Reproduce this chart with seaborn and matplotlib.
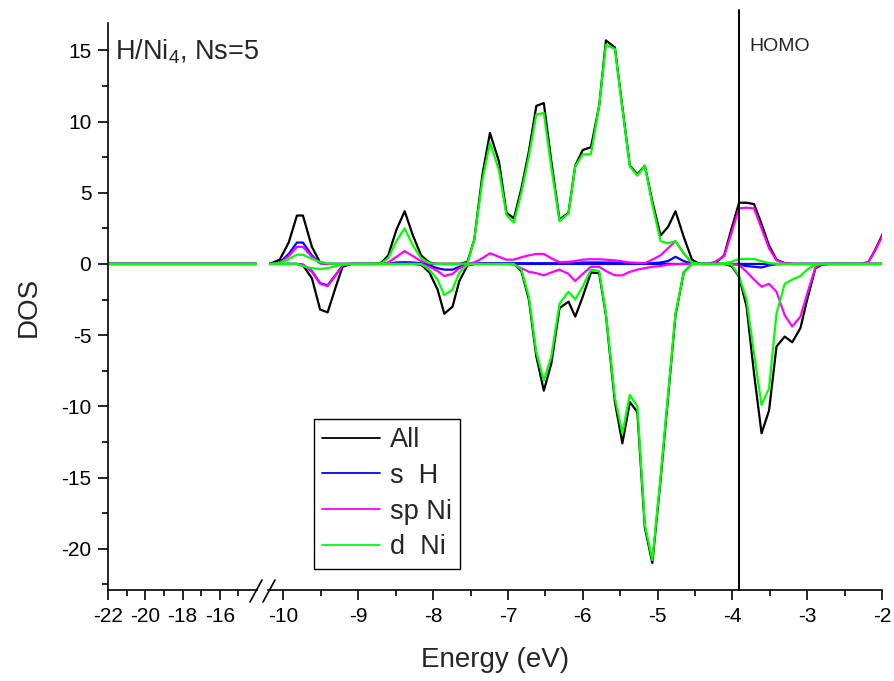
import numpy as np
import pandas as pd
import seaborn as sns
from matplotlib import pyplot as plt
from matplotlib.lines import Line2D

# energy grid (eV); -22 and -14 only feed the flat left panel
energy = [
    -22.0, -14.0, -10.30, -10.16, -10.05, -9.93, -9.82, -9.74, -9.62, -9.51,
    -9.41, -9.30, -9.21, -9.10, -8.99, -8.88, -8.78, -8.69, -8.60, -8.49,
    -8.38, -8.27, -8.16, -8.05, -7.94, -7.85, -7.74, -7.65, -7.54, -7.45,
    -7.34, -7.24, -7.12, -7.02, -6.92, -6.82, -6.72, -6.62, -6.52, -6.42,
    -6.31, -6.19, -6.10, -6.00, -5.89, -5.78, -5.69, -5.57, -5.47, -5.37,
    -5.27, -5.17, -5.07, -4.96, -4.86, -4.76, -4.65, -4.54, -4.44, -4.33,
    -4.23, -4.11, -4.01, -3.91, -3.81, -3.71, -3.61, -3.51, -3.41, -3.30,
    -3.20, -3.09, -3.00, -2.89, -2.80, -2.70, -2.59, -2.48, -2.38, -2.27,
    -2.18, -2.09, -2.00, -1.90,
]

all_up = [
    0, 0, 0, 0.05, 0.3, 1.5, 3.4, 3.4, 1.2, 0.1,
    0, 0, 0, 0, 0, 0, 0, 0.1, 0.6, 2.4,
    3.7, 2.0, 0.6, 0.1, 0, 0, 0, 0, 0.15, 1.7,
    6.3, 9.2, 7.2, 3.6, 3.2, 5.3, 7.9, 11.1, 11.3, 7.2,
    3.1, 3.6, 6.9, 8.0, 8.2, 11.1, 15.7, 15.2, 11.0, 6.9,
    6.3, 6.9, 4.4, 2.0, 2.6, 3.7, 1.9, 0.3, 0, 0,
    0.05, 0.6, 2.5, 4.3, 4.3, 4.2, 2.8, 1.3, 0.3, 0.05,
    0, 0, 0, 0, 0, 0, 0, 0, 0, 0,
    0.15, 1.0, 2.0, 3.2,
]
all_dn = [
    0, 0, 0, 0, 0, 0, 0, -0.1, -1.0, -3.2,
    -3.4, -1.6, -0.2, 0, 0, 0, 0, 0, 0, 0,
    0, 0, -0.05, -0.6, -1.8, -3.5, -3.0, -1.2, -0.1, 0,
    0, 0, 0, 0, 0, -0.5, -2.5, -6.5, -8.9, -7.0,
    -3.1, -2.65, -3.7, -2.3, -0.6, -0.65, -3.6, -9.7, -12.6, -9.7,
    -10.4, -18.5, -21.0, -15.2, -9.4, -3.6, -0.6, 0, 0, 0,
    0, 0, -0.15, -0.9, -3.0, -7.7, -11.9, -10.3, -5.8, -5.1,
    -5.5, -4.5, -2.5, -0.3, -0.05, 0, 0, 0, 0, 0,
    0, 0, 0, 0,
]
sH_up = [
    0, 0, 0, 0, 0.1, 0.7, 1.5, 1.5, 0.6, 0.05,
    0, 0, 0, 0, 0, 0, 0, 0, 0, 0.1,
    0.12, 0.1, 0.05, 0, 0, 0, 0, 0, 0, 0.02,
    0.05, 0.05, 0.05, 0.05, 0.05, 0.05, 0.05, 0.05, 0.05, 0.05,
    0.05, 0.05, 0.05, 0.1, 0.1, 0.1, 0.1, 0.1, 0.08, 0.05,
    0.05, 0.05, 0.05, 0.1, 0.2, 0.5, 0.2, 0.02, 0, 0,
    0, 0, 0, 0, 0, 0, 0, 0, 0, 0,
    0, 0, 0, 0, 0, 0, 0, 0, 0, 0,
    0, 0, 0, 0,
]
sH_dn = [
    0, 0, 0, 0, 0, 0, 0, -0.05, -0.5, -1.35,
    -1.5, -0.75, -0.1, 0, 0, 0, 0, 0, 0, 0,
    0, 0, 0, -0.1, -0.3, -0.4, -0.4, -0.2, -0.05, 0,
    0, 0, 0, 0, 0, 0, 0, 0, 0, 0,
    0, 0, 0, 0, 0, 0, 0, 0, 0, 0,
    0, 0, 0, 0, 0, 0, 0, 0, 0, 0,
    0, 0, 0, -0.05, -0.15, -0.2, -0.25, -0.1, -0.02, 0,
    0, 0, 0, 0, 0, 0, 0, 0, 0, 0,
    0, 0, 0, 0,
]
spNi_up = [
    0, 0, 0, 0, 0.05, 0.55, 1.2, 1.2, 0.5, 0.05,
    0, 0, 0, 0, 0, 0, 0, 0, 0.1, 0.5,
    0.9, 0.55, 0.2, 0.05, 0, 0, 0, 0, 0, 0.1,
    0.4, 0.75, 0.5, 0.3, 0.3, 0.47, 0.6, 0.7, 0.7, 0.4,
    0.12, 0.15, 0.2, 0.3, 0.33, 0.33, 0.3, 0.25, 0.18, 0.1,
    0.08, 0.05, 0.3, 0.6, 1.1, 1.6, 0.75, 0.05, 0, 0,
    0.15, 0.55, 2.2, 3.9, 3.95, 3.9, 2.5, 1.1, 0.25, 0.05,
    0, 0, 0, 0, 0, 0, 0, 0, 0, 0,
    0.15, 0.95, 1.9, 3.1,
]
spNi_dn = [
    0, 0, 0, 0, 0, 0, 0, -0.05, -0.55, -1.4,
    -1.55, -0.8, -0.1, 0, 0, 0, 0, 0, 0, 0,
    0, 0, 0, -0.2, -0.5, -0.85, -0.7, -0.3, -0.05, 0,
    0, 0, 0, 0, -0.05, -0.3, -0.55, -0.65, -0.8, -0.6,
    -0.4, -0.7, -1.2, -0.7, -0.2, -0.2, -0.5, -0.8, -0.8, -0.55,
    -0.4, -0.3, -0.2, -0.15, -0.05, -0.02, 0, 0, 0, 0,
    0, 0, 0, -0.07, -0.55, -1.1, -1.6, -1.4, -1.95, -3.6,
    -4.4, -3.7, -2.1, -0.25, 0, 0, 0, 0, 0, 0,
    0, 0, 0, 0,
]
dNi_up = [
    0, 0, 0, 0, 0.05, 0.35, 0.65, 0.65, 0.35, 0.15,
    0.05, 0, 0, 0, 0, 0, 0, 0.05, 0.4, 1.6,
    2.5, 1.3, 0.4, 0.05, 0, 0, 0, 0, 0.05, 1.7,
    5.9, 8.5, 6.6, 3.45, 2.9, 5.0, 7.55, 10.5, 10.6, 6.8,
    3.0, 3.55, 6.85, 7.7, 7.7, 11.1, 15.4, 15.1, 10.9, 6.85,
    6.2, 6.9, 4.2, 1.6, 1.45, 1.6, 0.75, 0.1, 0, 0,
    0, 0.05, 0.15, 0.35, 0.35, 0.35, 0.2, 0.05, 0, 0,
    0, 0, 0, 0, 0, 0, 0, 0, 0, 0,
    0, 0, 0, 0,
]
dNi_dn = [
    0, 0, 0, 0, 0, 0, 0, -0.15, -0.3, -0.35,
    -0.3, -0.15, -0.05, 0, 0, 0, 0, 0, 0, 0,
    0, 0, 0, -0.4, -1.1, -2.2, -1.8, -0.6, -0.05, 0,
    0, 0, 0, 0, 0, -0.4, -2.3, -6.2, -8.2, -6.5,
    -2.8, -1.95, -2.5, -1.6, -0.4, -0.5, -3.5, -9.4, -11.9, -9.2,
    -10.0, -18.3, -20.8, -15.0, -9.2, -3.5, -0.6, 0, 0, 0,
    0, 0, -0.05, -0.85, -2.5, -6.3, -9.9, -8.75, -3.5, -1.4,
    -1.1, -0.85, -0.4, -0.05, 0, 0, 0, 0, 0, 0,
    0, 0, 0, 0,
]

labels = ["All", "s  H", "sp Ni", "d  Ni"]
colors = ["#000000", "#0000ff", "#ff00ff", "#00ff00"]
homo = -3.91

series = {
    "All": (all_up, all_dn),
    "s  H": (sH_up, sH_dn),
    "sp Ni": (spNi_up, spNi_dn),
    "d  Ni": (dNi_up, dNi_dn),
}

frames = []
for name, (up, dn) in series.items():
    assert len(up) == len(energy) and len(dn) == len(energy)
    frames.append(pd.DataFrame({"Energy": energy, "DOS": up, "series": name, "spin": "up"}))
    frames.append(pd.DataFrame({"Energy": energy, "DOS": dn, "series": name, "spin": "down"}))
df = pd.concat(frames, ignore_index=True)

sns.set_theme(style="ticks")
plt.rcParams["font.family"] = ["Liberation Sans", "DejaVu Sans"]
plt.rcParams["mathtext.fontset"] = "custom"
plt.rcParams["mathtext.rm"] = "Liberation Sans"
plt.rcParams["mathtext.default"] = "regular"
plt.rcParams["axes.unicode_minus"] = False

W, H = 894, 681
fig = plt.figure(figsize=(W / 100, H / 100), dpi=100)
bottom, top = 590, 23.3
ax_lo = fig.add_axes([108 / W, 1 - bottom / H, (257 - 108) / W, (bottom - top) / H])
ax_hi = fig.add_axes([268.5 / W, 1 - bottom / H, (882 - 268.5) / W, (bottom - top) / H], sharey=ax_lo)

for ax in (ax_lo, ax_hi):
    sns.lineplot(data=df, x="Energy", y="DOS", hue="series", units="spin",
                 estimator=None, sort=False, hue_order=labels, palette=colors,
                 linewidth=1.6, legend=False, ax=ax)
    ax.set_xlabel("")
    ax.set_ylabel("")
    ax.spines["top"].set_visible(False)
    ax.spines["right"].set_visible(False)
    for s in ax.spines.values():
        s.set_linewidth(1.2)
        s.set_color("black")
    ax.tick_params(which="major", direction="out", length=7, width=1.2,
                   labelsize=15, pad=5, color="black", labelcolor="black")
    ax.tick_params(which="minor", direction="out", length=4.3, width=1.2, color="black")

ax_lo.set_xlim(-22, -14)
ax_lo.set_xticks([-22, -20, -18, -16])
ax_lo.set_xticks([-21, -19, -17, -15], minor=True)
ax_lo.set_ylim(-22.9, 16.9)
ax_lo.set_yticks(np.arange(-20, 16, 5))
ax_lo.set_yticks(np.arange(-22.5, 16, 5), minor=True)
ax_lo.set_ylabel("DOS", fontsize=20, labelpad=14)

ax_hi.set_xlim(-10.2, -2.0)
ax_hi.set_xticks(np.arange(-10, -1, 1))
ax_hi.set_xticks(np.arange(-9.5, -2, 1), minor=True)
ax_hi.spines["left"].set_visible(False)
ax_hi.tick_params(axis="y", which="both", left=False, labelleft=False)

# HOMO marker
ax_hi.axvline(homo, ymin=0, ymax=1.024, color="black", lw=1.4, clip_on=False)
ax_hi.text(homo + 0.14, 15.3, "HOMO", fontsize=14, va="center", ha="left")

# axis-break slashes
for x0 in (250, 263):
    fig.add_artist(Line2D([x0 / W, (x0 + 12) / W], [1 - 602 / H, 1 - 580 / H],
                          transform=fig.transFigure, color="black", lw=1.2))

fig.text(495 / W, 1 - 660 / H, "Energy (eV)", fontsize=20, ha="center", va="center")
fig.text(115 / W, 1 - 59.5 / H, "H/Ni$_4$, Ns=5", fontsize=19.5, ha="left", va="baseline")

handles = [Line2D([], [], color=c, lw=1.3) for c in colors]
leg = fig.legend(handles, labels, loc="upper left", bbox_to_anchor=(314 / W, 1 - 419 / H),
                 frameon=True, fancybox=False, edgecolor="black", framealpha=1,
                 fontsize=19.5, handlelength=2.15, handletextpad=0.35,
                 labelspacing=0.36, borderpad=0.3, borderaxespad=0)
leg.get_frame().set_linewidth(1.0)

fig.savefig("out.png", dpi=100)
